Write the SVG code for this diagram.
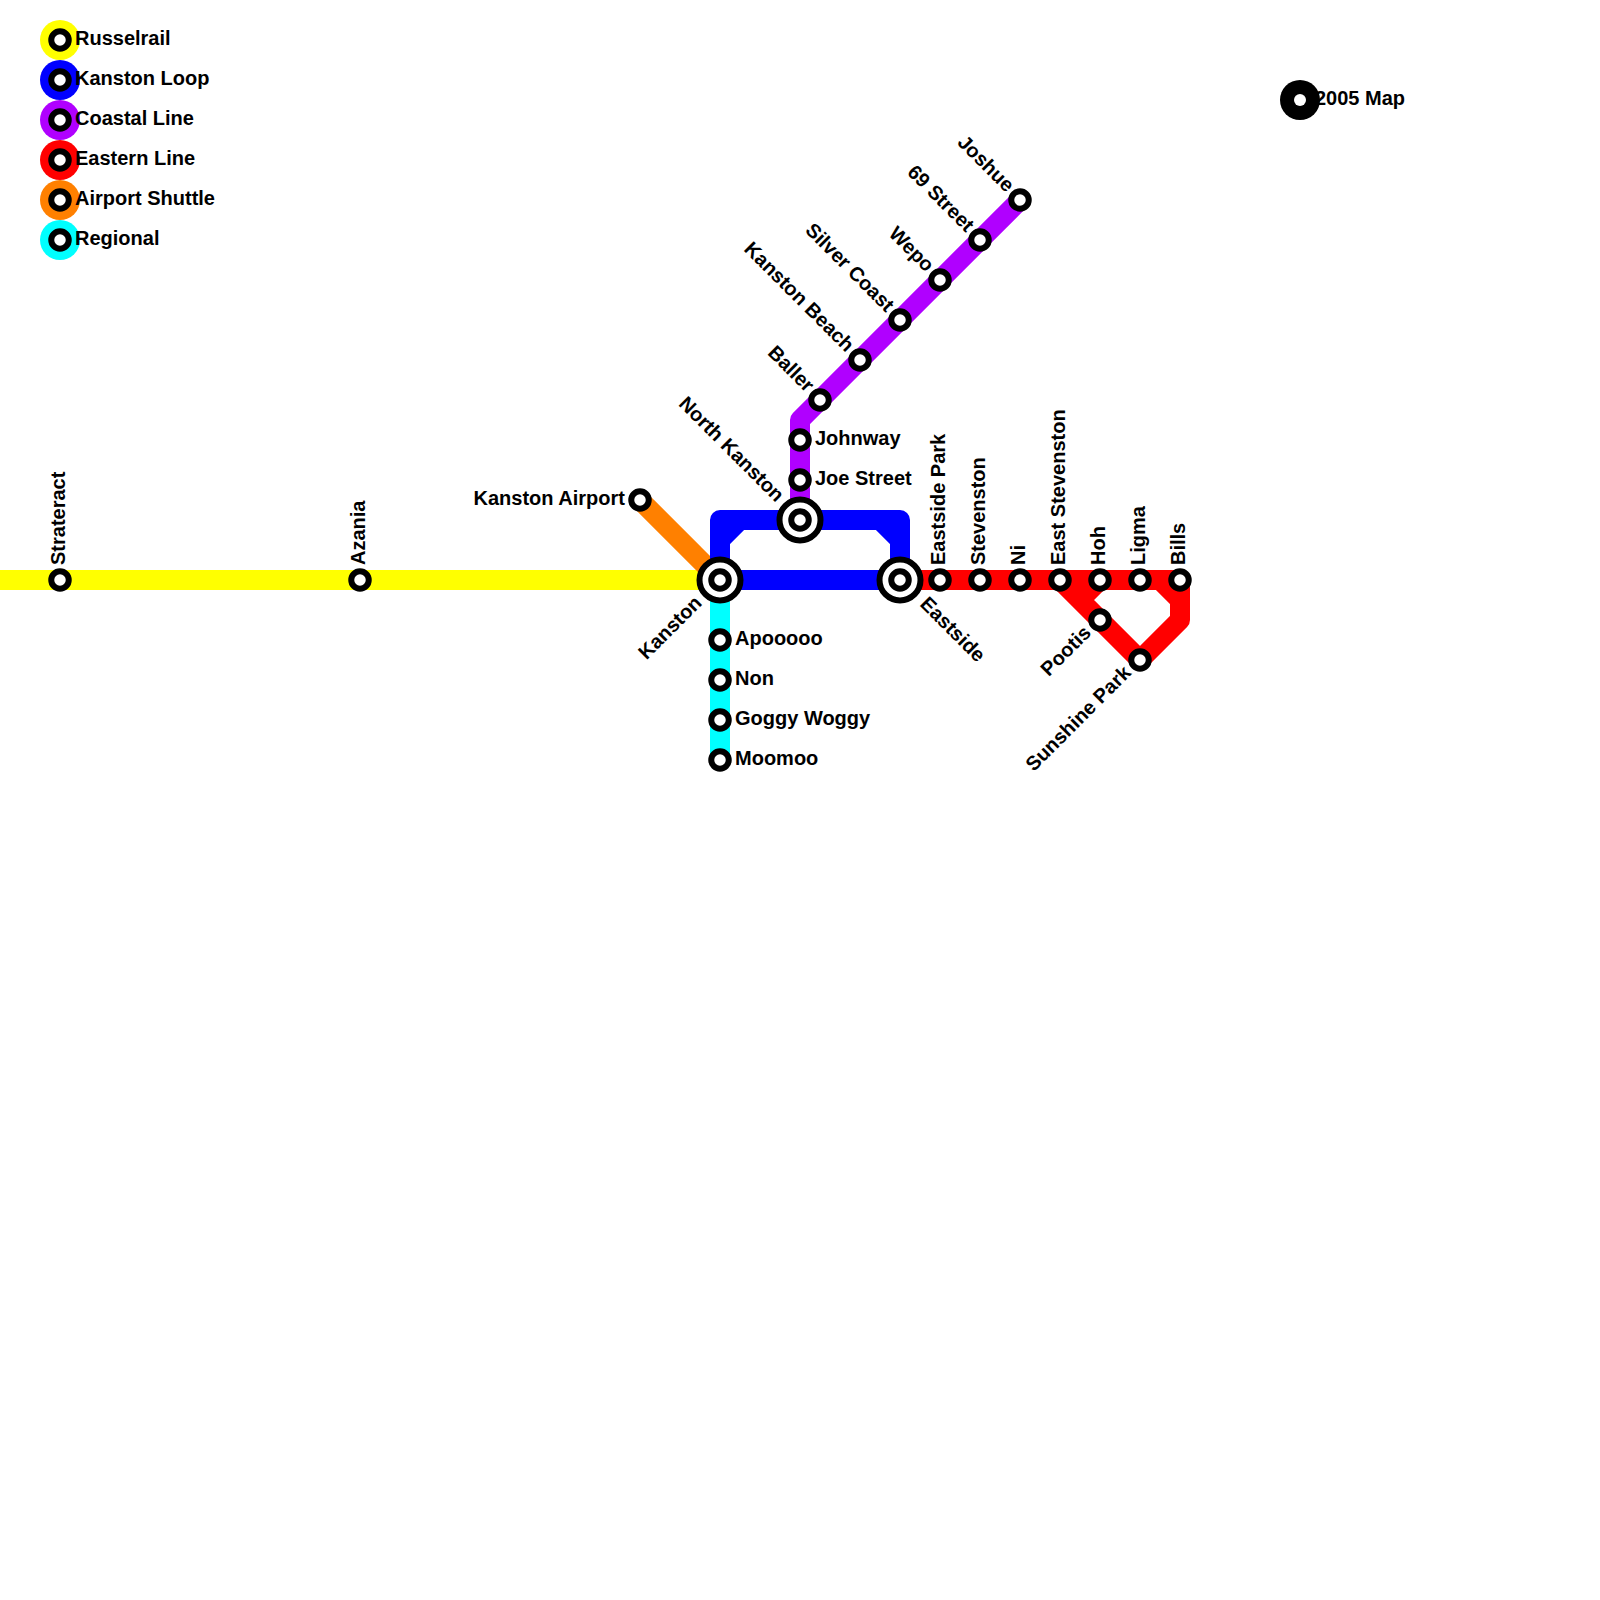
<svg xmlns="http://www.w3.org/2000/svg" width="1600" height="1600" viewBox="0 0 1600 1600">
<style>
.l{fill:none;stroke-width:20;stroke-linejoin:round}
.y{stroke:#ffff00}.b{stroke:#0000ff}.p{stroke:#b000ff}.r{stroke:#ff0000}.o{stroke:#ff8000}.c{stroke:#00ffff}
.s{fill:#fff;stroke:#000;stroke-width:6}
.t{font-family:"Liberation Sans",Arial,sans-serif;font-size:20px;font-weight:bold;fill:#000}
.e{text-anchor:end}
</style>
<defs>
<g id="st"><circle r="8.75" class="s"/></g>
<g id="hub"><circle r="20.5" class="s"/><circle r="8.75" class="s"/></g>
</defs>
<g id="connectors">
<path class="l y" d="M0 580H720"/>
<path class="l c" d="M720 580V760"/>
<path class="l o" d="M640 500L720 580"/>
<path class="l p" d="M800 520V420L1020 200"/>
<path class="l r" d="M900 580H1180V620L1140 660L1060 580M1160 580L1180 600M1100 580L1080 600"/>
<path class="l b" d="M720 580V520H900V580ZM720 540L740 520M880 520L900 540"/>
</g>
<g id="legend-russelrail"><circle cx="60" cy="40" r="20" fill="#ffff00"/><use href="#st" x="60" y="40"/><text class="t" x="75" y="45">Russelrail</text></g>
<g id="legend-kanston-loop"><circle cx="60" cy="80" r="20" fill="#0000ff"/><use href="#st" x="60" y="80"/><text class="t" x="75" y="85">Kanston Loop</text></g>
<g id="legend-coastal"><circle cx="60" cy="120" r="20" fill="#b000ff"/><use href="#st" x="60" y="120"/><text class="t" x="75" y="125">Coastal Line</text></g>
<g id="legend-eastern"><circle cx="60" cy="160" r="20" fill="#ff0000"/><use href="#st" x="60" y="160"/><text class="t" x="75" y="165">Eastern Line</text></g>
<g id="legend-airport"><circle cx="60" cy="200" r="20" fill="#ff8000"/><use href="#st" x="60" y="200"/><text class="t" x="75" y="205">Airport Shuttle</text></g>
<g id="legend-regional"><circle cx="60" cy="240" r="20" fill="#00ffff"/><use href="#st" x="60" y="240"/><text class="t" x="75" y="245">Regional</text></g>
<g id="title"><circle cx="1300" cy="100" r="20" fill="#000"/><circle cx="1300" cy="100" r="6" fill="#fff"/><text class="t" x="1315" y="105">2005 Map</text></g>
<g id="strateract"><use href="#st" x="60" y="580"/><text class="t" transform="translate(65 565) rotate(-90)">Strateract</text></g>
<g id="azania"><use href="#st" x="360" y="580"/><text class="t" transform="translate(365 565) rotate(-90)">Azania</text></g>
<g id="airport"><use href="#st" x="640" y="500"/><text class="t e" x="625" y="505">Kanston Airport</text></g>
<g id="kanston"><use href="#hub" x="720" y="580"/><text class="t e" transform="translate(703 604) rotate(-45)">Kanston</text></g>
<g id="apooooo"><use href="#st" x="720" y="640"/><text class="t" x="735" y="645">Apooooo</text></g>
<g id="non"><use href="#st" x="720" y="680"/><text class="t" x="735" y="685">Non</text></g>
<g id="goggy"><use href="#st" x="720" y="720"/><text class="t" x="735" y="725">Goggy Woggy</text></g>
<g id="moomoo"><use href="#st" x="720" y="760"/><text class="t" x="735" y="765">Moomoo</text></g>
<g id="north-kanston"><use href="#hub" x="800" y="520"/><text class="t e" transform="translate(776 503) rotate(45)">North Kanston</text></g>
<g id="johnway"><use href="#st" x="800" y="440"/><text class="t" x="815" y="445">Johnway</text></g>
<g id="joe"><use href="#st" x="800" y="480"/><text class="t" x="815" y="485">Joe Street</text></g>
<g id="baller"><use href="#st" x="820" y="400"/><text class="t e" transform="translate(806 393) rotate(45)">Baller</text></g>
<g id="kanston-beach"><use href="#st" x="860" y="360"/><text class="t e" transform="translate(846 353) rotate(45)">Kanston Beach</text></g>
<g id="silver-coast"><use href="#st" x="900" y="320"/><text class="t e" transform="translate(886 313) rotate(45)">Silver Coast</text></g>
<g id="wepo"><use href="#st" x="940" y="280"/><text class="t e" transform="translate(926 273) rotate(45)">Wepo</text></g>
<g id="s69"><use href="#st" x="980" y="240"/><text class="t e" transform="translate(966 233) rotate(45)">69 Street</text></g>
<g id="joshue"><use href="#st" x="1020" y="200"/><text class="t e" transform="translate(1006 193) rotate(45)">Joshue</text></g>
<g id="eastside"><use href="#hub" x="900" y="580"/><text class="t" transform="translate(919 605) rotate(45)">Eastside</text></g>
<g id="eastside-park"><use href="#st" x="940" y="580"/><text class="t" transform="translate(945 565) rotate(-90)">Eastside Park</text></g>
<g id="stevenston"><use href="#st" x="980" y="580"/><text class="t" transform="translate(985 565) rotate(-90)">Stevenston</text></g>
<g id="ni"><use href="#st" x="1020" y="580"/><text class="t" transform="translate(1025 565) rotate(-90)">Ni</text></g>
<g id="east-stevenston"><use href="#st" x="1060" y="580"/><text class="t" transform="translate(1065 565) rotate(-90)">East Stevenston</text></g>
<g id="hoh"><use href="#st" x="1100" y="580"/><text class="t" transform="translate(1105 565) rotate(-90)">Hoh</text></g>
<g id="ligma"><use href="#st" x="1140" y="580"/><text class="t" transform="translate(1145 565) rotate(-90)">Ligma</text></g>
<g id="bills"><use href="#st" x="1180" y="580"/><text class="t" transform="translate(1185 565) rotate(-90)">Bills</text></g>
<g id="pootis"><use href="#st" x="1100" y="620"/><text class="t e" transform="translate(1092 634) rotate(-45)">Pootis</text></g>
<g id="sunshine"><use href="#st" x="1140" y="660"/><text class="t e" transform="translate(1132 674) rotate(-45)">Sunshine Park</text></g>
</svg>
